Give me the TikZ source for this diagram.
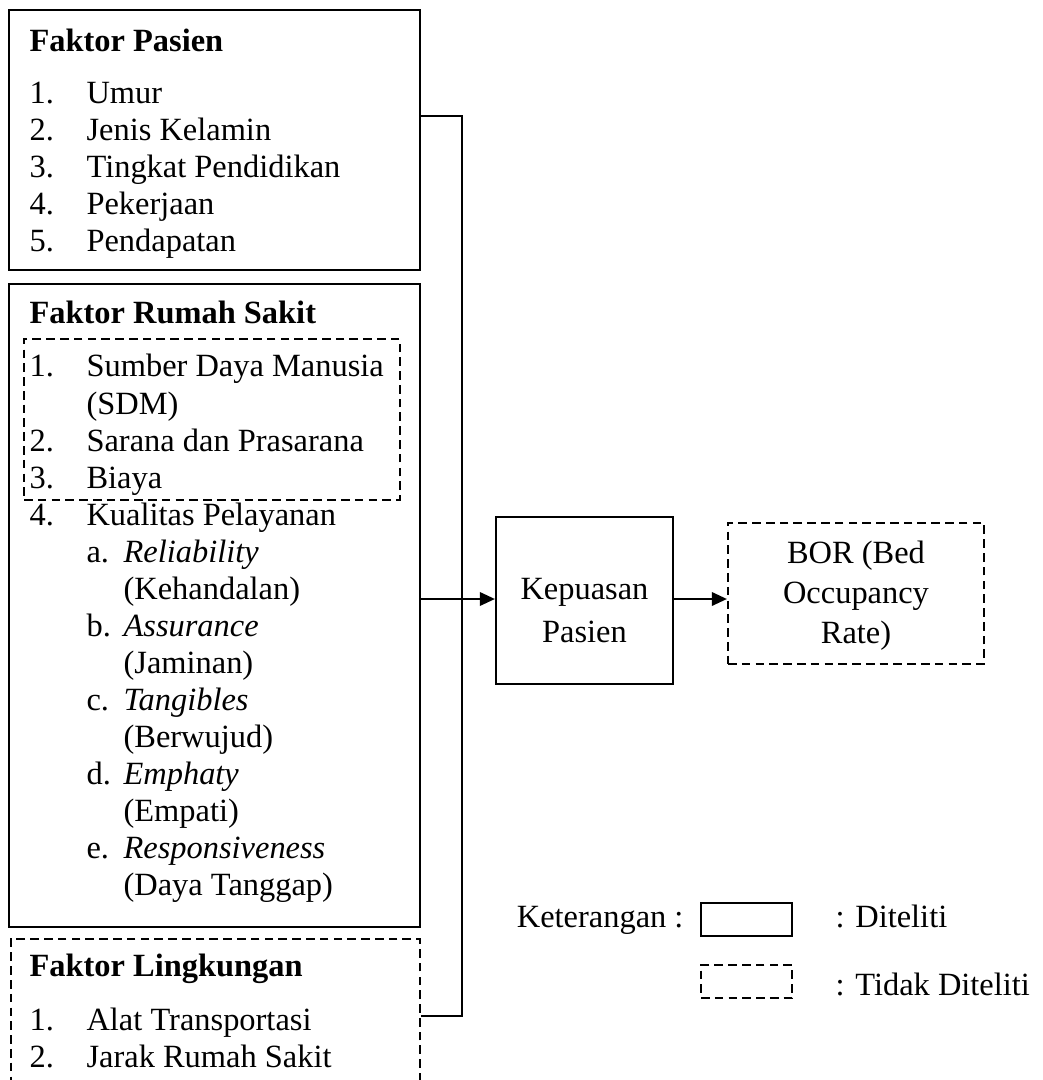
\documentclass[tikz,border=0pt]{standalone}
\usepackage{fontspec}
\setmainfont{Liberation Serif}
\usetikzlibrary{arrows.meta,fit}

\newcommand{\huruf}[1]{\makebox[13.7pt][l]{#1}}

\begin{document}
\begin{tikzpicture}[
			x=0.37pt, y=-0.37pt,
			every node/.style={font=\fontsize{12}{13.7}\selectfont, inner sep=0pt},
			kotak/.style={draw, line width=0.8pt, rectangle},
			kotakputus/.style={kotak, dash pattern=on 3.2pt off 1.9pt},
			isi/.style={anchor=base west, align=left},
			tengah/.style={anchor=north, align=center},
			garis/.style={line width=0.8pt},
			panah/.style={garis, -{Triangle[length=5.6pt,width=5pt]}}
			]
			\useasboundingbox (0,0) rectangle (1043,1080);
			\node[kotak, fit={(9,10) (420,270)}] (pasien) {};
			\node[kotak, fit={(9,284) (420,927)}] (rs) {};
			\node[kotakputus, fit={(24,339) (400,500)}] (tidakrs) {};
			\node[kotakputus, fit={(11,939) (420,1100)}] (lingkungan) {};
			\node[isi] (tekspasien) at (29,52) {\begin{tabular}[t]{@{}p{21.1pt}@{}l@{}}
				\multicolumn{2}{@{}l@{}}{\textbf{Faktor Pasien}}\\[5.2pt]
				1. & Umur\\
				2. & Jenis Kelamin\\
				3. & Tingkat Pendidikan\\
				4. & Pekerjaan\\
				5. & Pendapatan
			\end{tabular}};
			\node[isi] (teksrs) at (29,324) {\begin{tabular}[t]{@{}p{21.1pt}@{}l@{}}
				\multicolumn{2}{@{}l@{}}{\textbf{Faktor Rumah Sakit}}\\[5.9pt]
				1. & Sumber Daya Manusia\\
				& (SDM)\\
				2. & Sarana dan Prasarana\\
				3. & Biaya\\
				4. & Kualitas Pelayanan\\
				& \huruf{a.}\textit{Reliability}\\
				& \huruf{}(Kehandalan)\\
				& \huruf{b.}\textit{Assurance}\\
				& \huruf{}(Jaminan)\\
				& \huruf{c.}\textit{Tangibles}\\
				& \huruf{}(Berwujud)\\
				& \huruf{d.}\textit{Emphaty}\\
				& \huruf{}(Empati)\\
				& \huruf{e.}\textit{Responsiveness}\\
				& \huruf{}(Daya Tanggap)
			\end{tabular}};
			\node[isi] (tekslingkungan) at (29,976) {\begin{tabular}[t]{@{}p{21.1pt}@{}l@{}}
				\multicolumn{2}{@{}l@{}}{\textbf{Faktor Lingkungan}}\\[6.3pt]
				1. & Alat Transportasi\\
				2. & Jarak Rumah Sakit
			\end{tabular}};
			\node[kotak, fit={(496,517) (673,684)}] (kepuasan) {};
			\node[tengah, font=\fontsize{12}{15.9}\selectfont] (tekskepuasan) at (584.5,578) {Kepuasan\\Pasien};
			\node[kotakputus, fit={(728,523) (984,664)}] (bor) {};
			\node[tengah, font=\fontsize{12}{14.8}\selectfont] (teksbor) at (856,540.5) {BOR (Bed\\Occupancy\\Rate)};
			\coordinate (atas) at (462,116);
			\coordinate (bawah) at (462,1016);
			\draw[garis] (pasien.east |- atas) -- (atas) -- (bawah) -- (lingkungan.east |- bawah);
			\draw[panah] (rs.east |- 0,599) -- (kepuasan.west |- 0,599);
			\draw[panah] (kepuasan.east |- 0,599) -- (bor.west |- 0,599);
			\node[anchor=base east] (keterangan) at (684,927) {Keterangan :};
			\node[kotak, fit={(701,903) (792,936)}] (contohditeliti) {};
			\node[kotakputus, fit={(701,965) (792,998)}] (contohtidak) {};
			\node[anchor=base west] (diteliti) at (835,927) {: Diteliti};
			\node[anchor=base west] (tidakditeliti) at (835,995) {: Tidak Diteliti};
		\end{tikzpicture}
\end{document}
